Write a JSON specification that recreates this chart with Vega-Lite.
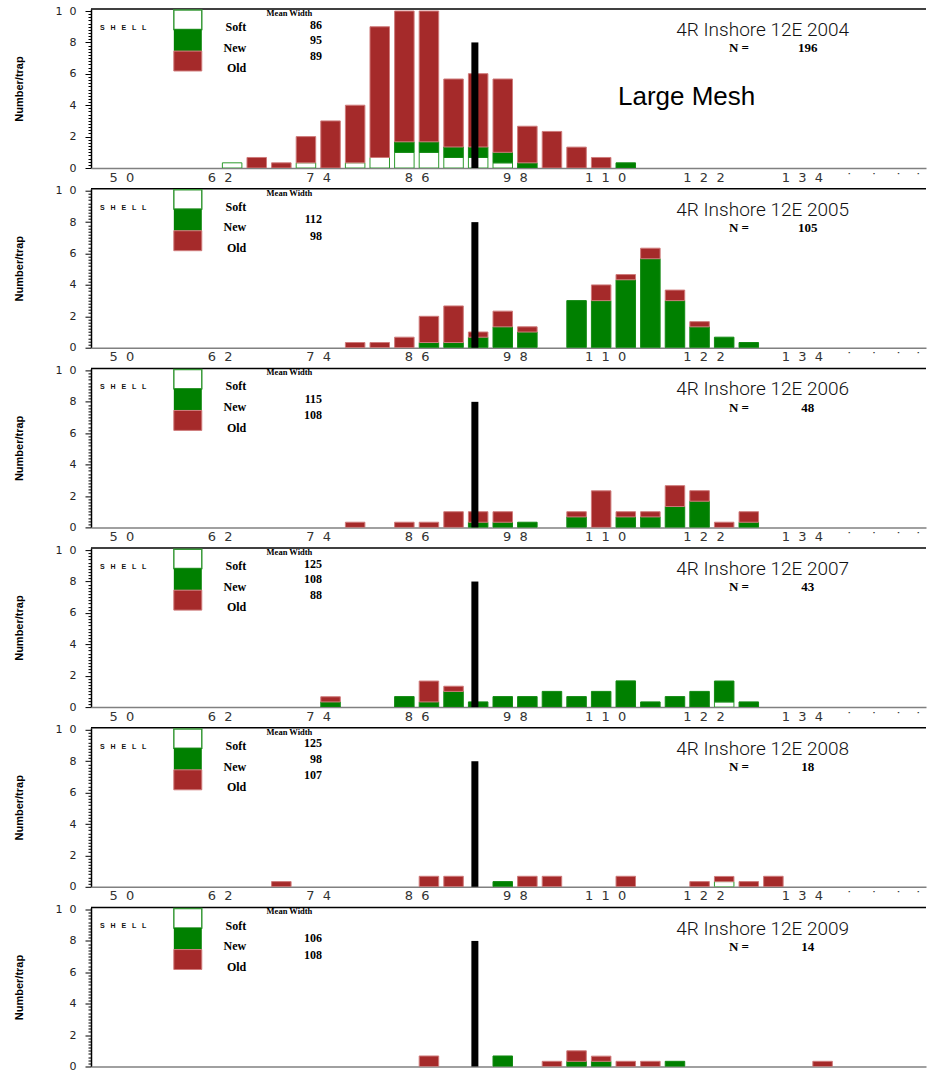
{
  "$schema": "https://vega.github.io/schema/vega-lite/v6.json",
  "background": "white",
  "padding": {"left": 13, "top": 5, "right": 0, "bottom": 0},
  "bounds": "flush",
  "spacing": {"row": 20.7},
  "data": {"values": [
    {"k":"b","year":2004,"m":62,"shell":"Soft","v":0.33},
    {"k":"b","year":2004,"m":65,"shell":"Old","v":0.67},
    {"k":"b","year":2004,"m":68,"shell":"Old","v":0.33},
    {"k":"b","year":2004,"m":71,"shell":"Soft","v":0.33},
    {"k":"b","year":2004,"m":71,"shell":"Old","v":1.67},
    {"k":"b","year":2004,"m":74,"shell":"Old","v":3},
    {"k":"b","year":2004,"m":77,"shell":"Soft","v":0.33},
    {"k":"b","year":2004,"m":77,"shell":"Old","v":3.67},
    {"k":"b","year":2004,"m":80,"shell":"Soft","v":0.67},
    {"k":"b","year":2004,"m":80,"shell":"Old","v":8.33},
    {"k":"b","year":2004,"m":83,"shell":"Soft","v":1},
    {"k":"b","year":2004,"m":83,"shell":"New","v":0.67},
    {"k":"b","year":2004,"m":83,"shell":"Old","v":8.33},
    {"k":"b","year":2004,"m":86,"shell":"Soft","v":1},
    {"k":"b","year":2004,"m":86,"shell":"New","v":0.67},
    {"k":"b","year":2004,"m":86,"shell":"Old","v":8.33},
    {"k":"b","year":2004,"m":89,"shell":"Soft","v":0.67},
    {"k":"b","year":2004,"m":89,"shell":"New","v":0.67},
    {"k":"b","year":2004,"m":89,"shell":"Old","v":4.33},
    {"k":"b","year":2004,"m":92,"shell":"Soft","v":0.67},
    {"k":"b","year":2004,"m":92,"shell":"New","v":0.67},
    {"k":"b","year":2004,"m":92,"shell":"Old","v":4.67},
    {"k":"b","year":2004,"m":95,"shell":"Soft","v":0.33},
    {"k":"b","year":2004,"m":95,"shell":"New","v":0.67},
    {"k":"b","year":2004,"m":95,"shell":"Old","v":4.67},
    {"k":"b","year":2004,"m":98,"shell":"New","v":0.33},
    {"k":"b","year":2004,"m":98,"shell":"Old","v":2.33},
    {"k":"b","year":2004,"m":101,"shell":"Old","v":2.33},
    {"k":"b","year":2004,"m":104,"shell":"Old","v":1.33},
    {"k":"b","year":2004,"m":107,"shell":"Old","v":0.67},
    {"k":"b","year":2004,"m":110,"shell":"New","v":0.33},

    {"k":"b","year":2005,"m":77,"shell":"Old","v":0.33},
    {"k":"b","year":2005,"m":80,"shell":"Old","v":0.33},
    {"k":"b","year":2005,"m":83,"shell":"Old","v":0.67},
    {"k":"b","year":2005,"m":86,"shell":"New","v":0.33},
    {"k":"b","year":2005,"m":86,"shell":"Old","v":1.67},
    {"k":"b","year":2005,"m":89,"shell":"New","v":0.33},
    {"k":"b","year":2005,"m":89,"shell":"Old","v":2.33},
    {"k":"b","year":2005,"m":92,"shell":"New","v":0.67},
    {"k":"b","year":2005,"m":92,"shell":"Old","v":0.33},
    {"k":"b","year":2005,"m":95,"shell":"New","v":1.33},
    {"k":"b","year":2005,"m":95,"shell":"Old","v":1},
    {"k":"b","year":2005,"m":98,"shell":"New","v":1},
    {"k":"b","year":2005,"m":98,"shell":"Old","v":0.33},
    {"k":"b","year":2005,"m":104,"shell":"New","v":3},
    {"k":"b","year":2005,"m":107,"shell":"New","v":3},
    {"k":"b","year":2005,"m":107,"shell":"Old","v":1},
    {"k":"b","year":2005,"m":110,"shell":"New","v":4.33},
    {"k":"b","year":2005,"m":110,"shell":"Old","v":0.33},
    {"k":"b","year":2005,"m":113,"shell":"New","v":5.67},
    {"k":"b","year":2005,"m":113,"shell":"Old","v":0.67},
    {"k":"b","year":2005,"m":116,"shell":"New","v":3},
    {"k":"b","year":2005,"m":116,"shell":"Old","v":0.67},
    {"k":"b","year":2005,"m":119,"shell":"New","v":1.33},
    {"k":"b","year":2005,"m":119,"shell":"Old","v":0.33},
    {"k":"b","year":2005,"m":122,"shell":"New","v":0.67},
    {"k":"b","year":2005,"m":125,"shell":"New","v":0.33},

    {"k":"b","year":2006,"m":77,"shell":"Old","v":0.33},
    {"k":"b","year":2006,"m":83,"shell":"Old","v":0.33},
    {"k":"b","year":2006,"m":86,"shell":"Old","v":0.33},
    {"k":"b","year":2006,"m":89,"shell":"Old","v":1},
    {"k":"b","year":2006,"m":92,"shell":"New","v":0.33},
    {"k":"b","year":2006,"m":92,"shell":"Old","v":0.67},
    {"k":"b","year":2006,"m":95,"shell":"New","v":0.33},
    {"k":"b","year":2006,"m":95,"shell":"Old","v":0.67},
    {"k":"b","year":2006,"m":98,"shell":"New","v":0.33},
    {"k":"b","year":2006,"m":104,"shell":"New","v":0.67},
    {"k":"b","year":2006,"m":104,"shell":"Old","v":0.33},
    {"k":"b","year":2006,"m":107,"shell":"Old","v":2.33},
    {"k":"b","year":2006,"m":110,"shell":"New","v":0.67},
    {"k":"b","year":2006,"m":110,"shell":"Old","v":0.33},
    {"k":"b","year":2006,"m":113,"shell":"New","v":0.67},
    {"k":"b","year":2006,"m":113,"shell":"Old","v":0.33},
    {"k":"b","year":2006,"m":116,"shell":"New","v":1.33},
    {"k":"b","year":2006,"m":116,"shell":"Old","v":1.33},
    {"k":"b","year":2006,"m":119,"shell":"New","v":1.67},
    {"k":"b","year":2006,"m":119,"shell":"Old","v":0.67},
    {"k":"b","year":2006,"m":122,"shell":"Old","v":0.33},
    {"k":"b","year":2006,"m":125,"shell":"New","v":0.33},
    {"k":"b","year":2006,"m":125,"shell":"Old","v":0.67},

    {"k":"b","year":2007,"m":74,"shell":"New","v":0.33},
    {"k":"b","year":2007,"m":74,"shell":"Old","v":0.33},
    {"k":"b","year":2007,"m":83,"shell":"New","v":0.67},
    {"k":"b","year":2007,"m":86,"shell":"New","v":0.33},
    {"k":"b","year":2007,"m":86,"shell":"Old","v":1.33},
    {"k":"b","year":2007,"m":89,"shell":"New","v":1},
    {"k":"b","year":2007,"m":89,"shell":"Old","v":0.33},
    {"k":"b","year":2007,"m":92,"shell":"New","v":0.33},
    {"k":"b","year":2007,"m":95,"shell":"New","v":0.67},
    {"k":"b","year":2007,"m":98,"shell":"New","v":0.67},
    {"k":"b","year":2007,"m":101,"shell":"New","v":1},
    {"k":"b","year":2007,"m":104,"shell":"New","v":0.67},
    {"k":"b","year":2007,"m":107,"shell":"New","v":1},
    {"k":"b","year":2007,"m":110,"shell":"New","v":1.67},
    {"k":"b","year":2007,"m":113,"shell":"New","v":0.33},
    {"k":"b","year":2007,"m":116,"shell":"New","v":0.67},
    {"k":"b","year":2007,"m":119,"shell":"New","v":1},
    {"k":"b","year":2007,"m":122,"shell":"Soft","v":0.33},
    {"k":"b","year":2007,"m":122,"shell":"New","v":1.33},
    {"k":"b","year":2007,"m":125,"shell":"New","v":0.33},

    {"k":"b","year":2008,"m":68,"shell":"Old","v":0.33},
    {"k":"b","year":2008,"m":86,"shell":"Old","v":0.67},
    {"k":"b","year":2008,"m":89,"shell":"Old","v":0.67},
    {"k":"b","year":2008,"m":95,"shell":"New","v":0.33},
    {"k":"b","year":2008,"m":98,"shell":"Old","v":0.67},
    {"k":"b","year":2008,"m":101,"shell":"Old","v":0.67},
    {"k":"b","year":2008,"m":110,"shell":"Old","v":0.67},
    {"k":"b","year":2008,"m":119,"shell":"Old","v":0.33},
    {"k":"b","year":2008,"m":122,"shell":"Soft","v":0.33},
    {"k":"b","year":2008,"m":122,"shell":"Old","v":0.33},
    {"k":"b","year":2008,"m":125,"shell":"Old","v":0.33},
    {"k":"b","year":2008,"m":128,"shell":"Old","v":0.67},

    {"k":"b","year":2009,"m":86,"shell":"Old","v":0.67},
    {"k":"b","year":2009,"m":95,"shell":"New","v":0.67},
    {"k":"b","year":2009,"m":101,"shell":"Old","v":0.33},
    {"k":"b","year":2009,"m":104,"shell":"New","v":0.33},
    {"k":"b","year":2009,"m":104,"shell":"Old","v":0.67},
    {"k":"b","year":2009,"m":107,"shell":"New","v":0.33},
    {"k":"b","year":2009,"m":107,"shell":"Old","v":0.33},
    {"k":"b","year":2009,"m":110,"shell":"Old","v":0.33},
    {"k":"b","year":2009,"m":113,"shell":"Old","v":0.33},
    {"k":"b","year":2009,"m":116,"shell":"New","v":0.33},
    {"k":"b","year":2009,"m":134,"shell":"Old","v":0.33},

    {"k":"p","year":2004,"title":"4R Inshore 12E 2004","n":196},
    {"k":"p","year":2005,"title":"4R Inshore 12E 2005","n":105},
    {"k":"p","year":2006,"title":"4R Inshore 12E 2006","n":48},
    {"k":"p","year":2007,"title":"4R Inshore 12E 2007","n":43},
    {"k":"p","year":2008,"title":"4R Inshore 12E 2008","n":18},
    {"k":"p","year":2009,"title":"4R Inshore 12E 2009","n":14},

    {"k":"mw","year":2004,"shell":"Soft","mw":86},
    {"k":"mw","year":2004,"shell":"New","mw":95},
    {"k":"mw","year":2004,"shell":"Old","mw":89},
    {"k":"mw","year":2005,"shell":"New","mw":112},
    {"k":"mw","year":2005,"shell":"Old","mw":98},
    {"k":"mw","year":2006,"shell":"New","mw":115},
    {"k":"mw","year":2006,"shell":"Old","mw":108},
    {"k":"mw","year":2007,"shell":"Soft","mw":125},
    {"k":"mw","year":2007,"shell":"New","mw":108},
    {"k":"mw","year":2007,"shell":"Old","mw":88},
    {"k":"mw","year":2008,"shell":"Soft","mw":125},
    {"k":"mw","year":2008,"shell":"New","mw":98},
    {"k":"mw","year":2008,"shell":"Old","mw":107},
    {"k":"mw","year":2009,"shell":"New","mw":106},
    {"k":"mw","year":2009,"shell":"Old","mw":108},

    {"k":"note","year":2004,"text":"Large Mesh"}
  ]},
  "facet": {"row": {"field": "year", "type": "ordinal", "title": null, "header": {"labels": false, "title": null}}},
  "resolve": {"axis": {"x": "independent"}},
  "spec": {
    "width": 835,
    "height": 159,
    "resolve": {"axis": {"y": "independent"}},
    "layer": [
      {
        "transform": [
          {"filter": "datum.k === 'b'"},
          {"calculate": "indexof(['Soft','New','Old'], datum.shell)", "as": "so"}
        ],
        "mark": {"type": "bar", "orient": "vertical", "width": 19.5, "strokeWidth": 1, "clip": true},
        "encoding": {
          "x": {"field": "m", "type": "quantitative",
            "scale": {"domain": [45.4, 146], "nice": false, "zero": false},
            "axis": {"values": [50, 62, 74, 86, 98, 110, 122, 134, 137.6, 140.6, 143.6, 146],
              "labelExpr": "datum.value > 135 ? '\u02d9' : join(split(datum.label, ''), '\u00a0\u00a0')",
              "labelAlign": "right", "labelDx": -3, "ticks": false, "domainColor": "#808080", "domainWidth": 1.5,
              "labelFont": "DejaVu Sans", "labelFontSize": 13, "labelColor": "#333333", "labelPadding": 3,
              "labelOverlap": false, "labelFlush": false, "labelBound": false, "title": null, "grid": false}},
          "y": {"field": "v", "type": "quantitative", "stack": "zero",
            "scale": {"domain": [0, 10.13], "nice": false},
            "axis": {"orient": "left", "values": [0, 2, 4, 6, 8, 10],
              "labelExpr": "datum.value === 10 ? '1\u00a0\u00a00' : datum.label",
              "tickSize": 6, "domainColor": "black", "domainWidth": 1.5, "tickColor": "black", "tickWidth": 1,
              "labelFont": "DejaVu Sans", "labelFontSize": 11, "labelColor": "#222222", "labelPadding": 9,
              "labelOverlap": false, "labelFlush": false, "labelBound": false, "grid": false,
              "title": "Number/trap", "titleFont": "Liberation Sans", "titleFontWeight": "bold", "titleFontSize": 11,
              "titleColor": "black", "titlePadding": 31}},
          "color": {"field": "shell", "type": "nominal",
            "scale": {"domain": ["Soft", "New", "Old"], "range": ["#ffffff", "#008000", "#a52a2a"]}, "legend": null},
          "stroke": {"field": "shell", "type": "nominal",
            "scale": {"domain": ["Soft", "New", "Old"], "range": ["#2e9b2e", "#138a13", "#cf7b7b"]}, "legend": null},
          "order": {"field": "so", "type": "quantitative"}
        }
      },
      {
        "transform": [{"filter": "datum.k === 'p'"}],
        "mark": {"type": "rule", "color": "black", "strokeWidth": 7, "strokeCap": "butt"},
        "encoding": {"x": {"datum": 91.6}, "y": {"datum": 0, "axis": null}, "y2": {"datum": 8}}
      },
      {
        "transform": [{"filter": "datum.k === 'p'"}],
        "mark": {"type": "rule", "color": "black", "strokeWidth": 1.5},
        "encoding": {"y": {"datum": 10.13, "axis": {"orient": "left", "values": [0.2,0.4,0.6,0.8,1,1.2,1.4,1.6,1.8,2.2,2.4,2.6,2.8,3,3.2,3.4,3.6,3.8,4.2,4.4,4.6,4.8,5,5.2,5.4,5.6,5.8,6.2,6.4,6.6,6.8,7,7.2,7.4,7.6,7.8,8.2,8.4,8.6,8.8,9,9.2,9.4,9.6,9.8],
          "labels": false, "domain": false, "tickSize": 3, "tickColor": "black", "tickWidth": 1, "title": null, "grid": false}}}
      },
      {
        "transform": [{"filter": "datum.k === 'p'"}],
        "mark": {"type": "text", "text": "S\u00a0\u00a0\u00a0H\u00a0\u00a0\u00a0E\u00a0\u00a0\u00a0L\u00a0\u00a0\u00a0L", "align": "left", "baseline": "middle", "font": "Liberation Sans", "fontSize": 7, "fontWeight": "bold", "color": "#111111"},
        "encoding": {"x": {"datum": 45.89}, "y": {"datum": 8.92, "axis": null}}
      },
      {
        "transform": [{"filter": "datum.k === 'p'"}],
        "mark": {"type": "rect", "fill": "#ffffff", "stroke": "#3a9a3a", "strokeWidth": 1.5},
        "encoding": {"x": {"datum": 54.89}, "x2": {"datum": 58.3}, "y": {"datum": 10.06, "axis": null}, "y2": {"datum": 8.83}}
      },
      {
        "transform": [{"filter": "datum.k === 'p'"}],
        "mark": {"type": "rect", "fill": "#008000"},
        "encoding": {"x": {"datum": 54.89}, "x2": {"datum": 58.3}, "y": {"datum": 8.83, "axis": null}, "y2": {"datum": 7.45}}
      },
      {
        "transform": [{"filter": "datum.k === 'p'"}],
        "mark": {"type": "rect", "fill": "#a52a2a", "stroke": "#cf7b7b", "strokeWidth": 1},
        "encoding": {"x": {"datum": 54.89}, "x2": {"datum": 58.3}, "y": {"datum": 7.45, "axis": null}, "y2": {"datum": 6.18}}
      },
      {
        "transform": [{"filter": "datum.k === 'p'"}],
        "mark": {"type": "text", "text": "Soft", "align": "right", "baseline": "middle", "font": "Liberation Serif", "fontSize": 12, "fontWeight": "bold", "color": "black"},
        "encoding": {"x": {"datum": 63.72}, "y": {"datum": 8.98, "axis": null}}
      },
      {
        "transform": [{"filter": "datum.k === 'p'"}],
        "mark": {"type": "text", "text": "New", "align": "right", "baseline": "middle", "font": "Liberation Serif", "fontSize": 12, "fontWeight": "bold", "color": "black"},
        "encoding": {"x": {"datum": 63.72}, "y": {"datum": 7.66, "axis": null}}
      },
      {
        "transform": [{"filter": "datum.k === 'p'"}],
        "mark": {"type": "text", "text": "Old", "align": "right", "baseline": "middle", "font": "Liberation Serif", "fontSize": 12, "fontWeight": "bold", "color": "black"},
        "encoding": {"x": {"datum": 63.72}, "y": {"datum": 6.35, "axis": null}}
      },
      {
        "transform": [{"filter": "datum.k === 'p'"}],
        "mark": {"type": "text", "text": "Mean Width", "align": "center", "baseline": "middle", "font": "Liberation Serif", "fontSize": 8.5, "fontWeight": "bold", "color": "black"},
        "encoding": {"x": {"datum": 68.99}, "y": {"datum": 9.88, "axis": null}}
      },
      {
        "transform": [{"filter": "datum.k === 'mw' && datum.shell === 'Soft'"}],
        "mark": {"type": "text", "align": "right", "baseline": "middle", "font": "Liberation Serif", "fontSize": 12, "fontWeight": "bold", "color": "black"},
        "encoding": {"text": {"field": "mw"}, "x": {"datum": 72.96}, "y": {"datum": 9.14, "axis": null}}
      },
      {
        "transform": [{"filter": "datum.k === 'mw' && datum.shell === 'New'"}],
        "mark": {"type": "text", "align": "right", "baseline": "middle", "font": "Liberation Serif", "fontSize": 12, "fontWeight": "bold", "color": "black"},
        "encoding": {"text": {"field": "mw"}, "x": {"datum": 72.96}, "y": {"datum": 8.17, "axis": null}}
      },
      {
        "transform": [{"filter": "datum.k === 'mw' && datum.shell === 'Old'"}],
        "mark": {"type": "text", "align": "right", "baseline": "middle", "font": "Liberation Serif", "fontSize": 12, "fontWeight": "bold", "color": "black"},
        "encoding": {"text": {"field": "mw"}, "x": {"datum": 72.96}, "y": {"datum": 7.13, "axis": null}}
      },
      {
        "transform": [{"filter": "datum.k === 'p'"}],
        "mark": {"type": "text", "align": "center", "baseline": "middle", "font": "Roboto", "fontWeight": 300, "fontSize": 19, "color": "#111111"},
        "encoding": {"text": {"field": "title"}, "x": {"datum": 126.7}, "y": {"datum": 8.79, "axis": null}}
      },
      {
        "transform": [{"filter": "datum.k === 'p'"}],
        "mark": {"type": "text", "text": "N =", "align": "center", "baseline": "middle", "font": "Liberation Serif", "fontSize": 13, "fontWeight": "bold", "color": "black"},
        "encoding": {"x": {"datum": 123.8}, "y": {"datum": 7.62, "axis": null}}
      },
      {
        "transform": [{"filter": "datum.k === 'p'"}],
        "mark": {"type": "text", "align": "center", "baseline": "middle", "font": "Liberation Serif", "fontSize": 13, "fontWeight": "bold", "color": "black"},
        "encoding": {"text": {"field": "n"}, "x": {"datum": 132.2}, "y": {"datum": 7.62, "axis": null}}
      },
      {
        "transform": [{"filter": "datum.k === 'note'"}],
        "mark": {"type": "text", "align": "center", "baseline": "middle", "font": "Liberation Sans", "fontSize": 26, "color": "black"},
        "encoding": {"text": {"field": "text"}, "x": {"datum": 117.42}, "y": {"datum": 4.54, "axis": null}}
      }
    ]
  },
  "config": {"view": {"stroke": null}, "axis": {"grid": false}}
}
